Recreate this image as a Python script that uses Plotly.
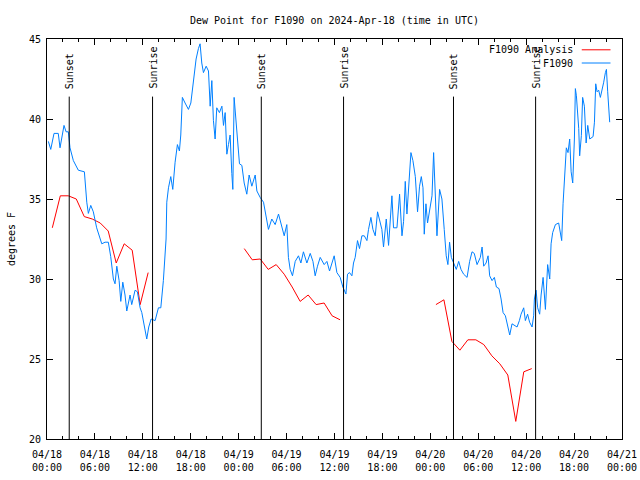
import pandas as pd
import plotly.graph_objects as go

base = pd.Timestamp("2024-04-18 00:00")

# F1090 observations: hours since 2024-04-18 00:00 UTC, dew point (F)
blue_hours = [0.17, 0.47, 0.88, 1.41, 1.63, 1.84, 2.13, 2.39, 2.67, 2.88, 3.30, 3.92, 4.68, 4.98, 5.18, 5.48, 5.80,
              6.22, 6.55, 6.86, 7.27, 7.68, 7.98, 8.31, 8.52, 8.74, 9.03, 9.24, 9.49, 9.77, 9.99, 10.40, 10.61, 11.03,
              11.32, 11.66, 11.87, 12.15, 12.49, 12.74, 13.04, 13.54, 13.95, 14.25, 14.57, 14.91, 15.00, 15.21, 15.50,
              15.75, 16.04, 16.33, 16.58, 16.75, 16.95, 17.29, 17.71, 18.01, 18.33, 18.67, 18.96, 19.17, 19.38, 19.59,
              19.93, 20.22, 20.43, 20.64, 20.84, 21.05, 21.26, 21.59, 21.90, 22.10, 22.31, 22.52, 22.72, 22.93, 23.14,
              23.27, 23.43, 23.59, 23.84, 24.10, 24.40, 24.69, 25.02, 25.31, 25.65, 26.07, 26.28, 26.69, 27.11, 27.41,
              27.73, 28.15, 28.57, 28.99, 29.41, 29.70, 30.03, 30.23, 30.45, 30.74, 31.08, 31.49, 31.79, 32.11, 32.54,
              32.96, 33.30, 33.58, 33.87, 34.21, 34.71, 35.05, 35.38, 35.68, 35.96, 36.30, 36.71, 37.05, 37.43, 37.63,
              37.88, 38.18, 38.38, 38.59, 38.88, 39.13, 39.43, 39.73, 40.06, 40.26, 40.56, 40.81, 41.10, 41.39, 41.64,
              41.93, 42.14, 42.48, 42.77, 43.07, 43.19, 43.39, 43.82, 44.15, 44.45, 44.65, 44.86, 45.07, 45.36, 45.57,
              45.82, 46.12, 46.40, 46.65, 46.87, 47.08, 47.24, 47.45, 47.65, 47.91, 48.21, 48.41, 48.62, 48.83, 49.16,
              49.45, 49.74, 49.99, 50.20, 50.41, 50.63, 50.92, 51.25, 51.55, 51.84, 52.17, 52.60, 52.92, 53.22, 53.50,
              53.85, 54.26, 54.48, 54.68, 54.98, 55.23, 55.43, 55.73, 56.02, 56.27, 56.60, 56.86, 57.11, 57.40, 57.69,
              57.94, 58.23, 58.56, 58.86, 59.15, 59.36, 59.69, 59.90, 60.18, 60.43, 60.74, 60.94, 61.03, 61.24, 61.44,
              61.69, 61.87, 62.12, 62.41, 62.69, 62.95, 63.12, 63.32, 63.66, 64.07, 64.28, 64.45, 64.62, 64.75, 64.87,
              65.03, 65.24, 65.45, 65.63, 65.83, 66.04, 66.16, 66.29, 66.45, 66.58, 66.70, 66.91, 67.07, 67.29, 67.51,
              67.71, 67.96, 68.38, 68.55, 68.71, 68.88, 69.08, 69.29, 69.51, 69.71, 69.92, 70.05, 70.21, 70.34, 70.46]
blue_vals = [38.6, 38.1, 39.1, 39.1, 38.2, 38.9, 39.6, 39.2, 39.2, 38.2, 37.4, 36.8, 36.7, 34.8, 34.1, 34.6, 34.2,
             33.2, 32.7, 32.2, 32.3, 32.3, 31.4, 30.0, 29.7, 30.8, 29.9, 28.6, 29.8, 29.0, 28.0, 29.0, 28.4, 29.3,
             29.2, 28.2, 27.9, 27.2, 26.25, 27.0, 27.5, 27.4, 28.2, 28.2, 29.9, 32.5, 34.8, 35.7, 36.4,
             35.6, 37.3, 38.4, 38.0, 39.0, 41.35, 41.0, 40.6, 41.0, 42.5, 43.75, 44.4, 44.7, 43.5, 42.9,
             43.3, 43.0, 40.8, 42.4, 39.9, 38.75, 40.7, 40.4, 40.8, 39.6, 40.4, 37.8, 38.4, 39.0, 36.6,
             35.6, 41.35, 40.2, 38.5, 37.2, 37.1, 36.0, 35.3, 36.5, 35.8, 36.5, 35.5, 35.1, 34.8, 34.06,
             33.1, 33.75, 33.4, 34.06, 33.3, 32.7, 33.4, 31.35, 30.6, 30.2, 31.1, 31.45, 31.0, 31.7, 31.0,
             31.6, 31.1, 30.2, 30.8, 31.35, 30.9, 31.1, 30.5, 31.0, 31.45, 30.4, 30.1, 29.5, 29.06, 30.3,
             30.4, 30.2, 31.0, 31.35, 32.4, 31.9, 32.7, 32.7, 32.4, 33.1, 33.85, 33.1, 32.7, 34.2, 33.75,
             33.1, 32.0, 33.75, 32.1, 34.06, 35.2, 33.2, 33.2, 35.3, 32.7, 33.6, 36.1, 34.06, 36.25, 37.9,
             37.4, 36.4, 34.2, 35.8, 36.4, 35.7, 32.8, 34.7, 33.5, 34.2, 35.2, 37.9, 34.6, 32.7, 35.6,
             35.0, 33.1, 31.45, 30.9, 32.3, 31.35, 31.0, 30.6, 31.1, 30.6, 30.3, 30.1, 31.1, 31.7, 31.6,
             30.9, 31.35, 32.0, 30.8, 31.0, 31.45, 30.2, 29.9, 30.1, 29.5, 29.4, 28.75, 27.9, 27.7, 27.1,
             26.5, 27.2, 27.1, 27.0, 27.4, 27.8, 28.2, 27.4, 27.8, 27.3, 27.0, 27.7, 28.75, 29.3, 28.2,
             27.8, 29.0, 30.1, 28.1, 30.9, 30.0, 32.2, 32.9, 33.4, 33.5, 32.8, 32.4, 34.7, 36.0, 37.5,
             38.2, 37.9, 38.75, 36.7, 36.0, 38.75, 41.9, 41.45, 40.4, 39.4, 37.7, 38.96, 41.35, 40.8, 38.5,
             39.6, 38.75, 38.9, 39.8, 42.2, 41.7, 41.8, 41.35, 41.8, 42.3, 42.9, 43.1, 41.7, 40.7, 39.8]

# F1090 Analysis: hourly values, three segments
analysis_starts = ["2024-04-18 00:40", "2024-04-19 00:42", "2024-04-20 00:42"]
analysis_seg1 = [33.2, 35.2, 35.2, 35.0, 33.9, 33.75, 33.5, 33.0, 31.0, 32.2, 31.8, 28.4, 30.4]
analysis_seg2 = [31.9, 31.2, 31.25, 30.6, 30.9, 30.3, 29.5, 28.6, 29.0, 28.4, 28.5, 27.7, 27.45]
analysis_seg3 = [28.4, 28.7, 26.1, 25.55, 26.2, 26.2, 25.9, 25.2, 24.7, 24.0, 21.1, 24.2, 24.4]

# Sun events (UTC)
sun_times = ["2024-04-18 02:47", "2024-04-18 13:13", "2024-04-19 02:50",
             "2024-04-19 13:08", "2024-04-20 02:54", "2024-04-20 13:11"]
sun_labels = ["Sunset", "Sunrise", "Sunset", "Sunrise", "Sunset", "Sunrise"]

FONT = "DejaVu Sans Mono"
RED = "#ff0000"
BLUE = "#0080ff"

blue_times = base + pd.to_timedelta(blue_hours, unit="h")

red_x, red_y = [], []
for start, seg in zip(analysis_starts, [analysis_seg1, analysis_seg2, analysis_seg3]):
    times = pd.date_range(start, periods=len(seg), freq="h")
    red_x.extend(list(times))
    red_y.extend(seg)
    red_x.append(None)
    red_y.append(None)

fig = go.Figure()
fig.add_trace(go.Scatter(x=red_x, y=red_y, mode="lines", name="F1090 Analysis",
                         line=dict(color=RED, width=1), connectgaps=False, showlegend=False))
fig.add_trace(go.Scatter(x=blue_times, y=blue_vals, mode="lines", name="F1090",
                         line=dict(color=BLUE, width=1), showlegend=False))

for t, lab in zip(sun_times, sun_labels):
    fig.add_shape(type="line", xref="x", yref="y", x0=t, x1=t, y0=20, y1=41.4,
                  line=dict(color="black", width=1))
    fig.add_annotation(x=t, y=41.75, xref="x", yref="y", text=lab, textangle=-90,
                       showarrow=False, xanchor="center", yanchor="bottom",
                       font=dict(family=FONT, size=10, color="black"))

# manual gnuplot-style legend (text, then sample line on the right)
legend_items = [("F1090 Analysis", RED, 0.973), ("F1090", BLUE, 0.940)]
for text, col, yy in legend_items:
    fig.add_annotation(x=0.918, y=yy, xref="paper", yref="paper", text=text, showarrow=False,
                       xanchor="right", yanchor="middle", font=dict(family=FONT, size=10, color="black"))
    fig.add_shape(type="line", xref="paper", yref="paper", x0=0.930, x1=0.980, y0=yy, y1=yy,
                  line=dict(color=col, width=1))

fig.update_layout(
    width=640, height=480,
    margin=dict(l=47, r=18, t=39, b=41),
    paper_bgcolor="white", plot_bgcolor="white",
    font=dict(family=FONT, size=10, color="black"),
    title=dict(text="Dew Point for F1090 on 2024-Apr-18 (time in UTC)", x=0.5, xref="paper",
               y=1 - 20 / 480, yref="container", yanchor="middle", automargin=False,
               font=dict(family=FONT, size=10, color="black")),
    showlegend=False,
)
fig.update_xaxes(
    range=["2024-04-18 00:00", "2024-04-21 00:00"], automargin=False,
    tick0="2024-04-18 00:00", dtick=6 * 3600 * 1000, tickformat="%m/%d<br>%H:%M",
    ticks="inside", ticklen=6, tickcolor="black", showline=True, linecolor="black", linewidth=1,
    mirror="ticks", showgrid=False, zeroline=False, ticklabelstandoff=6,
    minor=dict(dtick=2 * 3600 * 1000, ticks="inside", ticklen=3, tickcolor="black", showgrid=False),
    tickfont=dict(family=FONT, size=10),
)
fig.update_yaxes(
    range=[20, 45], dtick=5, ticks="inside", ticklen=6, tickcolor="black", automargin=False,
    showline=True, linecolor="black", linewidth=1, mirror="ticks", showgrid=False, zeroline=False,
    title=dict(text="degrees F", standoff=11, font=dict(family=FONT, size=10)),
    tickfont=dict(family=FONT, size=10), ticklabelstandoff=3,
)

fig.write_html("out.html", config={"displayModeBar": False},
               post_script="document.body.style.margin='0';")
